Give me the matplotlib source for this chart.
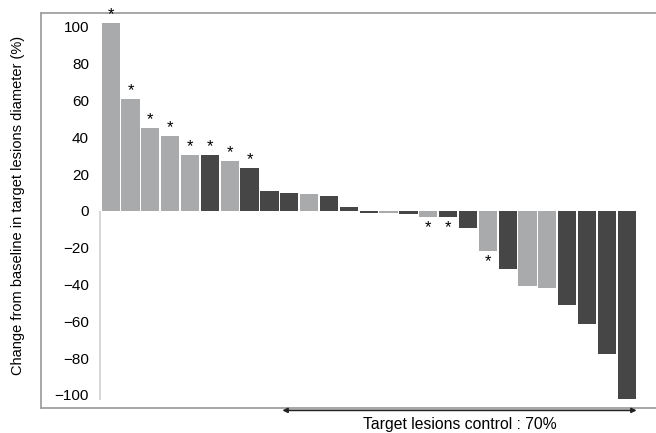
import matplotlib
matplotlib.use("Agg")
import matplotlib.pyplot as plt

plt.rcParams['font.family'] = ['Liberation Sans', 'DejaVu Sans']

# change from baseline (%) per patient, sorted
values = [102, 61, 45, 41, 30.5, 30.5, 27, 23.5, 11, 10, 9, 8, 2,
          -1, -1, -1.5, -3.5, -3.5, -9, -22, -31.5, -41, -42,
          -51, -61.5, -77.5, -102]
# 1 = dark bar, 0 = light bar
dark = [0, 0, 0, 0, 0, 1, 0, 1, 1, 1, 0, 1, 1,
        1, 0, 1, 0, 1, 1, 0, 1, 0, 0,
        1, 1, 1, 1]
starred = [0, 1, 2, 3, 4, 5, 6, 7, 16, 17, 19]
yticks = [100, 80, 60, 40, 20, 0, -20, -40, -60, -80, -100]
control_from = 8   # first bar counted in the target lesion control

light_c = '#a9aaac'
dark_c = '#464646'

fig = plt.figure(figsize=(6.56, 4.33), dpi=100)
ax = fig.add_axes([41 / 656, 25 / 433, 630 / 656, 395 / 433])

x = list(range(len(values)))
colors = [dark_c if d else light_c for d in dark]
ax.bar(x, values, width=0.92, color=colors, edgecolor='none')

for i in starred:
    v = values[i]
    if v > 0:
        ax.annotate('*', (i, v), xytext=(0, 0.5), textcoords='offset points',
                    ha='center', va='bottom', fontsize=12)
    else:
        ax.annotate('*', (i, v), xytext=(0, -13), textcoords='offset points',
                    ha='center', va='bottom', fontsize=12)

# inner axis line below zero
ax.vlines(-0.52, -103, 0, color='#cfcfcf', lw=1.2)

ax.set_xlim(-3.51, 28.23)
ax.set_ylim(-107.1, 107.6)
ax.set_xticks([])
ax.set_yticks(yticks)
ax.set_yticklabels([str(t).replace('-', '\u2212') for t in yticks], fontsize=11)
ax.tick_params(axis='y', length=0, pad=-34.5)
for lab in ax.get_yticklabels():
    lab.set_horizontalalignment('right')

for s in ax.spines.values():
    s.set_color('#a0a0a0')
    s.set_linewidth(1.3)

fig.text(18 / 656, (433 - 205) / 433,
         'Change from baseline in target lesions diameter (%)',
         rotation=90, ha='center', va='center', fontsize=10.5)

# target lesion control arrow
ax.annotate('', xy=(len(values) - 0.5, -0.006), xytext=(control_from + 0.65, -0.006),
            xycoords=('data', 'axes fraction'), textcoords=('data', 'axes fraction'),
            arrowprops=dict(arrowstyle='<|-|>', color='#222222', lw=1.2,
                            mutation_scale=7, shrinkA=0, shrinkB=0),
            annotation_clip=False)
ax.text((control_from + 0.65 + len(values) - 0.5) / 2, -0.042,
        'Target lesions control : 70%', transform=ax.get_xaxis_transform(),
        ha='center', va='center', fontsize=11.3)

fig.savefig('out.png', dpi=100)
